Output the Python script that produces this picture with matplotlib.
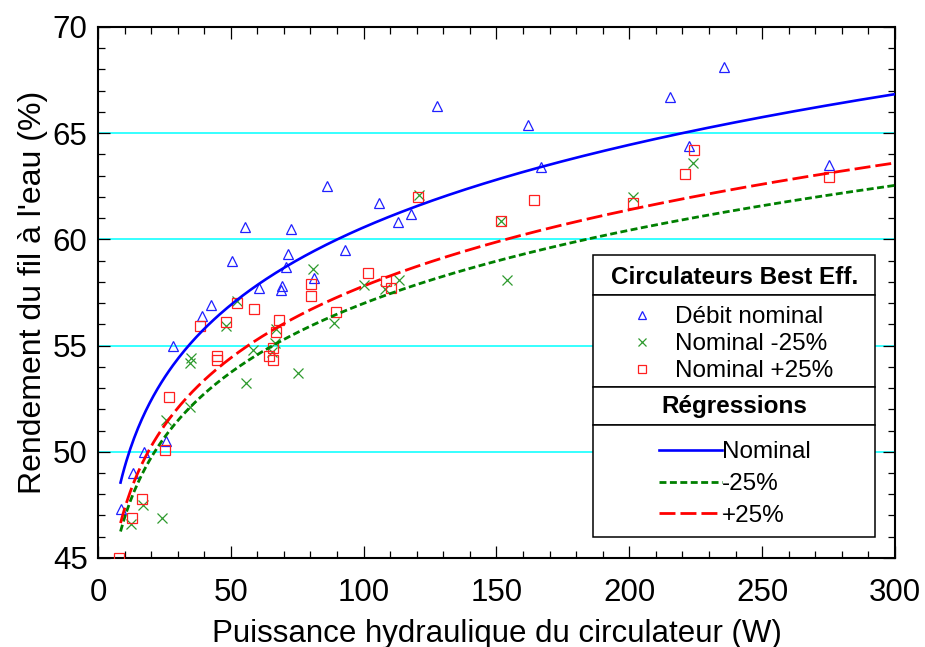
import numpy as np
import matplotlib.pyplot as plt
from matplotlib.patches import Rectangle
from matplotlib.ticker import MultipleLocator

plt.rcParams['font.family'] = ['Liberation Sans', 'DejaVu Sans']
plt.rcParams['lines.scale_dashes'] = False

# Débit nominal (W, %)
p_nom = [8.7, 13.1, 17.4, 25.5, 28.1, 39.0, 42.4, 50.5, 55.3, 60.7, 68.8, 69.3,
         70.8, 71.4, 72.5, 81.5, 86.4, 93.0, 105.9, 113.0, 117.8, 127.5, 161.7,
         166.7, 215.4, 222.5, 235.5, 275.1]
r_nom = [47.3, 49.0, 50.0, 50.5, 55.0, 56.4, 56.9, 59.0, 60.6, 57.7, 57.6, 57.8,
         58.7, 59.3, 60.5, 58.2, 62.5, 59.5, 61.7, 60.8, 61.2, 66.3, 65.4,
         63.4, 66.7, 64.4, 68.1, 63.5]

# Nominal -25%
p_m25 = [12.4, 17.0, 24.0, 25.6, 34.5, 34.9, 34.6, 48.1, 52.2, 55.8, 58.4, 65.4,
         66.6, 67.0, 75.4, 80.8, 88.9, 100.1, 108.0, 113.4, 120.8, 151.9, 153.8,
         201.4, 205.2, 223.8]
r_m25 = [46.6, 47.5, 46.9, 51.5, 54.2, 54.4, 52.1, 55.9, 57.1, 53.25, 54.8, 54.7,
         55.1, 55.8, 53.7, 58.6, 56.05, 57.85, 57.65, 58.1, 62.1, 60.85, 58.1,
         62.0, 59.0, 63.6]

# Nominal +25%
p_p25 = [8.0, 12.7, 16.7, 25.3, 26.7, 38.5, 44.8, 44.8, 48.1, 52.3, 58.7, 64.5,
         66.0, 66.0, 66.9, 68.1, 80.3, 80.3, 89.5, 101.5, 108.6, 110.2, 120.3,
         151.9, 164.2, 201.4, 220.8, 224.4, 275.1]
r_p25 = [45.0, 46.9, 47.8, 50.1, 52.6, 55.9, 54.5, 54.3, 56.1, 57.0, 56.7, 54.5,
         54.9, 54.3, 55.65, 56.2, 57.9, 57.35, 56.6, 58.4, 58.05, 57.7, 62.0,
         60.85, 61.85, 61.7, 63.1, 64.2, 62.95]

# régressions de puissance : rendement = a * P**b
coef_nom = (40.07, 0.0897)
coef_m25 = (38.58, 0.0847)
coef_p25 = (38.72, 0.0870)
p_min, p_max = 8.5, 300

fig = plt.figure(figsize=(9.25, 6.47), dpi=100)
ax = fig.add_axes([0.1059, 0.1376, 0.8616, 0.8207])

# points mesurés
mk = dict(ls='none', mfc='none', ms=6.8, mew=0.9, zorder=3)
h_nom, = ax.plot(p_nom, r_nom, marker='^', mec='#2020ff', **mk)
h_m25, = ax.plot(p_m25, r_m25, marker='x', mec='#2e9a2e', **mk)
h_p25, = ax.plot(p_p25, r_p25, marker='s', mec='#ff2020', **mk)

# courbes de régression
P = np.linspace(p_min, p_max, 400)
l_nom, = ax.plot(P, coef_nom[0] * P ** coef_nom[1], color='#0000ff', lw=1.9, zorder=4)
l_m25, = ax.plot(P, coef_m25[0] * P ** coef_m25[1], color='#008000', lw=2.0,
                 dashes=(5, 2.5), zorder=4)
l_p25, = ax.plot(P, coef_p25[0] * P ** coef_p25[1], color='#ff0000', lw=2.0,
                 dashes=(11.5, 3.6), zorder=4)

ax.set_xlim(0, 300)
ax.set_ylim(45, 70)
ax.xaxis.set_major_locator(MultipleLocator(50))
ax.xaxis.set_minor_locator(MultipleLocator(10))
ax.yaxis.set_major_locator(MultipleLocator(5))
ax.yaxis.set_minor_locator(MultipleLocator(1))
ax.tick_params(which='both', direction='in', top=True, right=True, width=0.9,
               labelsize=22.5)
ax.tick_params(axis='x', pad=14.5)
ax.tick_params(axis='y', pad=7.5)
ax.tick_params(which='major', length=8.5)
ax.tick_params(which='minor', length=5.3)
for s in ax.spines.values():
    s.set_linewidth(1.5)
ax.yaxis.grid(True, color='#00ffff', lw=1.1)
ax.set_axisbelow(True)

ax.set_xlabel('Puissance hydraulique du circulateur (W)', fontsize=22.5, labelpad=7.5)
ax.set_ylabel("Rendement du fil à l'eau (%)", fontsize=23, labelpad=3)

# cadre de la légende en quatre cases
bx0, bx1 = 0.6215, 0.975
rows = [0.5706, 0.4953, 0.3215, 0.2505, 0.0390]
for top, bot in zip(rows[:-1], rows[1:]):
    ax.add_patch(Rectangle((bx0, bot), bx1 - bx0, top - bot, transform=ax.transAxes,
                           facecolor='white', edgecolor='black', lw=1.1,
                           zorder=5, clip_on=False))
xc = (bx0 + bx1) / 2
ax.text(xc, (rows[0] + rows[1]) / 2 - 0.004, 'Circulateurs Best Eff.',
        transform=ax.transAxes, ha='center', va='center', fontsize=17.5,
        fontweight='bold', zorder=6)
ax.text(xc, (rows[2] + rows[3]) / 2, 'Régressions', transform=ax.transAxes,
        ha='center', va='center', fontsize=17.5, fontweight='bold', zorder=6)

leg1 = ax.legend([h_nom, h_m25, h_p25], ['Débit nominal', 'Nominal -25%', 'Nominal +25%'],
                 loc='upper left', bbox_to_anchor=(0.6669, 0.4738), frameon=False,
                 fontsize=17.5, markerscale=0.9, handlelength=1.0, handletextpad=0.87,
                 labelspacing=0.2, borderpad=0, borderaxespad=0)
leg1.set_zorder(7)
ax.add_artist(leg1)
leg2 = ax.legend([l_nom, l_m25, l_p25], ['Nominal', '-25%', '+25%'],
                 loc='upper left', bbox_to_anchor=(0.7039, 0.2196), frameon=False,
                 fontsize=17.5, handlelength=2.6, handletextpad=0.0,
                 labelspacing=0.40, borderpad=0, borderaxespad=0)
leg2.set_zorder(7)

fig.savefig('out.png', dpi=100)
